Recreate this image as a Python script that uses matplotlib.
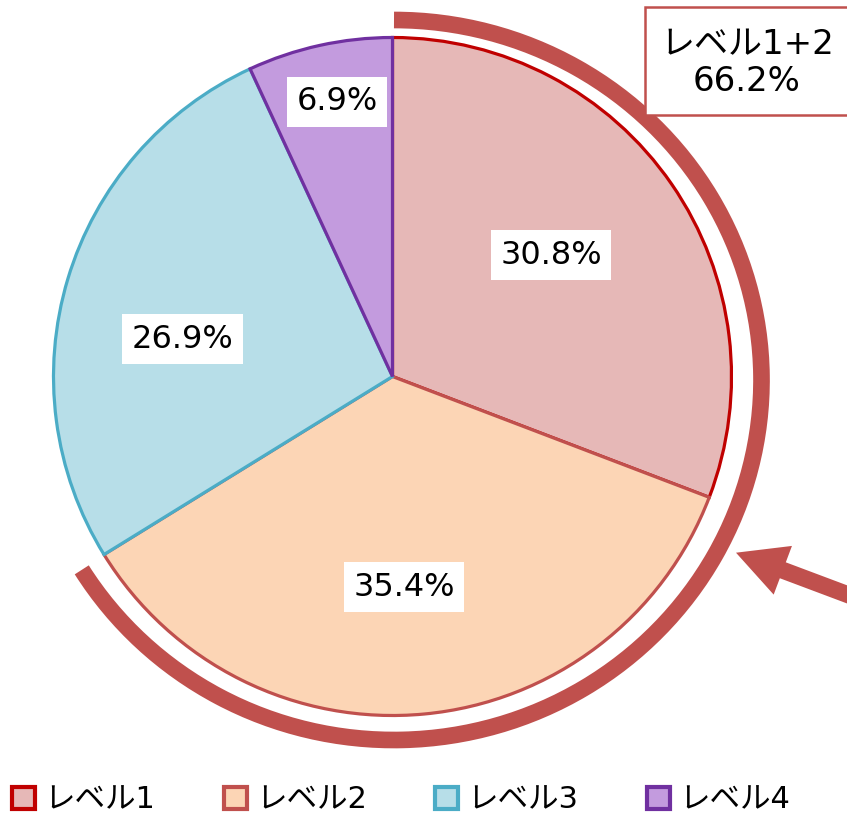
import matplotlib
matplotlib.use("Agg")
import matplotlib.pyplot as plt
import numpy as np
from matplotlib.patches import Arc, FancyArrow, Patch, Rectangle

plt.rcParams['font.family'] = ['DejaVu Sans', 'Noto Sans CJK JP']

# data
labels = ["レベル1", "レベル2", "レベル3", "レベル4"]
values = [30.8, 35.4, 26.9, 6.9]
fills = ["#E6B8B7", "#FCD5B5", "#B7DEE8", "#C39BDE"]
edges = ["#C00000", "#C0504D", "#4BACC6", "#7030A0"]
combo_label = "レベル1+2"
combo_value = values[0] + values[1]

W, H = 847, 815
cx, cy, s = 392.5, 376.5, 339.0   # pie centre / radius in pixels


def px(x, y):
    # pixel position -> data units (pie radius = 1)
    return (x - cx) / s, (cy - y) / s


fig = plt.figure(figsize=(W / 100, H / 100), dpi=100)
ax = fig.add_axes([0, 0, 1, 1])

wedges, _ = ax.pie(values, colors=fills, startangle=90, counterclock=False,
                   radius=1, center=(0, 0), frame=True,
                   wedgeprops=dict(linewidth=2.3))
for w, ec in zip(wedges, edges):
    w.set_edgecolor(ec)
ax.set_xlim(px(0, 0)[0], px(W, 0)[0])
ax.set_ylim(px(0, H)[1], px(0, 0)[1])
ax.set_aspect("auto")
ax.axis("off")

# percentage labels
ang_off = [2.9, -2.3, 6.6, -1.0]
label_r = [0.589, 0.622, 0.628, 0.827]
for w, v, da, r in zip(wedges, values, ang_off, label_r):
    ang = np.deg2rad((w.theta1 + w.theta2) / 2 + da)
    ax.text(r * np.cos(ang), r * np.sin(ang), f"{v}%", ha="center", va="center",
            fontsize=23, color="black",
            bbox=dict(boxstyle="square,pad=0.3", fc="white", ec="none"))

# outer arc for level 1+2
ac = px(394, 380)
arc = Arc(ac, 2 * 367.5 / s, 2 * 360 / s, theta1=-148.7, theta2=90,
          color="#C0504D", lw=12, capstyle="butt")
ax.add_patch(arc)

# arrow
tail = px(862, 600)
tip = px(736, 552.7)
ax.add_patch(FancyArrow(tail[0], tail[1], tip[0] - tail[0], tip[1] - tail[1],
                        width=17 / s, head_width=52 / s, head_length=50 / s,
                        length_includes_head=True, color="#C0504D", lw=0))

# combined box
bx0, by0 = px(645, 115)
bx1, by1 = px(870, 7)
ax.add_patch(Rectangle((bx0, by0), bx1 - bx0, by1 - by0, fc="white",
                       ec="#C0504D", lw=1.8))
tx, ty = px(747, 63)
ax.text(tx, ty, f"{combo_label}\n{combo_value:.1f}%", ha="center", va="center",
        fontsize=24.5, linespacing=1.15)

handles = [Patch(facecolor=f, edgecolor=e, lw=3) for f, e in zip(fills, edges)]
fig.legend(handles, labels, loc="center left", bbox_to_anchor=(12 / W, 1 - 800 / H),
           ncol=4, frameon=False, fontsize=22, handlelength=0.75, handleheight=0.75,
           handletextpad=0.3, columnspacing=2.25, borderaxespad=0, borderpad=0)

plt.savefig("out.png", dpi=100)
